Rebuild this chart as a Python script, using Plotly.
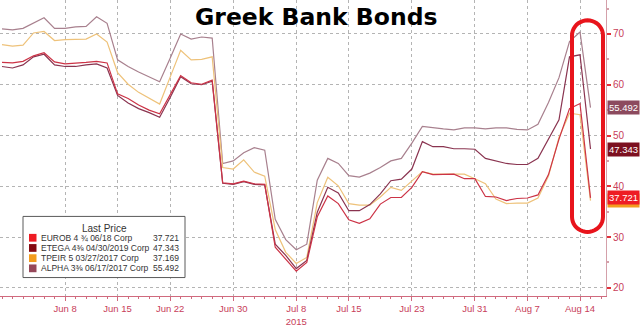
import plotly.graph_objects as go
import math

dates = [
    "2015-05-29",
    "2015-06-01", "2015-06-02", "2015-06-03", "2015-06-04", "2015-06-05",
    "2015-06-08", "2015-06-09", "2015-06-10", "2015-06-11", "2015-06-12",
    "2015-06-15", "2015-06-16", "2015-06-17", "2015-06-18", "2015-06-19",
    "2015-06-22", "2015-06-23", "2015-06-24", "2015-06-25", "2015-06-26",
    "2015-06-29", "2015-06-30", "2015-07-01", "2015-07-02", "2015-07-03",
    "2015-07-06", "2015-07-07", "2015-07-08", "2015-07-09", "2015-07-10",
    "2015-07-13", "2015-07-14", "2015-07-15", "2015-07-16", "2015-07-17",
    "2015-07-20", "2015-07-21", "2015-07-22", "2015-07-23", "2015-07-24",
    "2015-07-27", "2015-07-28", "2015-07-29", "2015-07-30", "2015-07-31",
    "2015-08-03", "2015-08-04", "2015-08-05", "2015-08-06", "2015-08-07",
    "2015-08-10", "2015-08-11", "2015-08-12", "2015-08-13", "2015-08-14",
    "2015-08-17",
]

alpha = [71.0, 70.8, 71.1, 72.1, 73.2, 71.1, 71.1, 71.4, 71.5, 73.4, 72.1,
         64.9, 63.6, 62.5, 61.5, 60.6, 65.2, 70.0, 69.0, 69.4, 69.2,
         44.5, 45.0, 46.6, 47.6, 47.1, 33.5, 29.5, 27.5, 28.6,
         41.2, 45.5, 44.5, 42.1, 41.8, 42.6, 43.7, 45.0, 45.5, 48.5,
         51.8, 51.5, 51.3, 51.1, 51.5, 51.5, 51.3, 51.5, 51.5, 51.2, 51.1,
         52.2, 56.5, 61.4, 68.5, 70.4, 55.492]

tpeir = [67.9, 67.6, 67.8, 70.2, 70.5, 68.7, 68.9, 68.9, 69.0, 70.0, 68.4,
         62.4, 60.1, 58.5, 57.3, 56.2, 61.5, 66.8, 64.9, 65.0, 65.5,
         43.7, 43.4, 45.2, 42.8, 42.0, 31.5, 27.0, 24.8, 26.0,
         36.8, 41.8, 40.1, 36.6, 36.3, 36.3, 37.9, 39.8, 39.2, 41.0,
         42.9, 42.4, 42.4, 42.4, 42.4, 41.5, 40.5, 37.5, 36.6, 36.7, 36.7,
         37.7, 42.0, 49.6, 54.4, 54.1, 37.169]

eurob = [64.4, 64.3, 64.6, 65.7, 66.3, 64.5, 64.1, 64.2, 64.4, 64.6, 64.3,
         58.2, 57.3, 56.0, 55.0, 54.3, 58.0, 61.8, 60.4, 60.1, 60.9,
         40.7, 40.5, 41.0, 40.5, 40.4, 28.0, 25.7, 23.3, 25.0,
         34.0, 38.1, 36.6, 33.4, 32.7, 33.6, 36.5, 37.8, 37.8, 39.8,
         42.9, 42.3, 42.4, 42.4, 41.5, 41.5, 38.0, 37.9, 37.2, 37.6, 37.7,
         38.3, 42.3, 49.3, 55.3, 56.3, 37.721]

etega = [63.6, 63.3, 63.9, 65.5, 66.0, 63.9, 63.6, 63.6, 63.9, 64.1, 63.3,
         57.9, 56.4, 55.3, 54.5, 53.6, 57.5, 61.6, 60.2, 60.0, 60.7,
         40.6, 40.4, 40.9, 40.4, 40.3, 28.6, 26.4, 23.8, 25.4,
         34.9, 39.8, 38.7, 35.2, 35.2, 36.4, 38.5, 41.1, 41.4, 43.4,
         48.8, 47.8, 47.8, 47.4, 47.4, 47.3, 45.5, 45.0, 44.5, 44.3, 44.3,
         45.5, 49.3, 53.1, 65.5, 65.9, 47.343]

series_names = ["EUROB 4 \u00be 06/18 Corp", "ETEGA 4\u215c 04/30/2019 Corp",
                "TPEIR 5 03/27/2017 Corp", "ALPHA 3\u215c 06/17/2017 Corp"]
series_vals = [eurob, etega, tpeir, alpha]
last_prices = ["37.721", "47.343", "37.169", "55.492"]
line_colors = ["#cc3346", "#8a3450", "#eec27a", "#a8808e"]
swatch_colors = ["#ee1c24", "#850a12", "#f39c1e", "#96485a"]
label_colors = ["#ee1c24", "#7c1020", "#f39c1e", "#8c4a5e"]

xtick_vals = ["2015-06-08", "2015-06-15", "2015-06-22", "2015-06-30", "2015-07-08",
              "2015-07-15", "2015-07-23", "2015-07-31", "2015-08-07", "2015-08-14"]
xtick_text = ["Jun 8", "Jun 15", "Jun 22", "Jun 30", "Jul 8<br>2015",
              "Jul 15", "Jul 23", "Jul 31", "Aug 7", "Aug 14"]
ytick_vals = [20, 30, 40, 50, 60, 70]

W, H = 640, 327
ML, MR, MT, MB = 0, 34, 0, 22
PW, PH = W - ML - MR, H - MT - MB


def px(x):
    return x / PW


def py(y):
    return 1 - y / PH


fig = go.Figure()
draw_order = [3, 2, 1, 0]
for k in draw_order:
    fig.add_trace(go.Scatter(x=dates, y=series_vals[k], mode="lines",
                             line=dict(color=line_colors[k], width=1.2),
                             name=series_names[k], showlegend=False))

shapes = []
annotations = []

# title
annotations.append(dict(text="<b>Greek Bank Bonds</b>", xref="paper", yref="paper",
                        x=px(316), y=py(18), xanchor="center", yanchor="middle",
                        showarrow=False,
                        font=dict(family="DejaVu Sans", size=23.5, color="#000000")))

# legend box
shapes.append(dict(type="rect", xref="paper", yref="paper",
                   x0=px(23), x1=px(185), y0=py(223), y1=py(286),
                   line=dict(color="#5a5a5a", width=1), fillcolor="white", layer="above"))
annotations.append(dict(text="Last Price", xref="paper", yref="paper",
                        x=px(104.5), y=py(235), xanchor="center", yanchor="middle",
                        showarrow=False,
                        font=dict(family="Liberation Sans", size=10, color="#333333")))
row_y = [245, 255.5, 266, 276.5]
for k in range(4):
    yy = row_y[k]
    shapes.append(dict(type="rect", xref="paper", yref="paper",
                       x0=px(29), x1=px(36.5), y0=py(yy - 4), y1=py(yy + 4),
                       line=dict(width=0), fillcolor=swatch_colors[k], layer="above"))
    annotations.append(dict(text=series_names[k], xref="paper", yref="paper",
                            x=px(39), y=py(yy), xanchor="left", yanchor="middle",
                            showarrow=False,
                            font=dict(family="Liberation Sans", size=8.5, color="#333333")))
    annotations.append(dict(text=last_prices[k], xref="paper", yref="paper",
                            x=px(181), y=py(yy), xanchor="right", yanchor="middle",
                            showarrow=False,
                            font=dict(family="Liberation Sans", size=8.5, color="#333333")))

# right-side last value labels (TPEIR first so EUROB sits on top)
for k in [3, 1, 2, 0]:
    annotations.append(dict(text=last_prices[k], xref="paper", yref="y",
                            x=1, y=float(last_prices[k]), xanchor="left", yanchor="middle",
                            xshift=1, showarrow=False, bgcolor=label_colors[k],
                            borderpad=1,
                            font=dict(family="Liberation Sans", size=9.5, color="white")))

# red highlight stadium
cx, hw, ytop, ybot = 587.5, 15.5, 21, 239
pts = []
for j in range(0, 21):
    a = math.pi + math.pi * j / 20
    pts.append((cx + hw * math.cos(a), ytop + hw + hw * math.sin(a)))
for j in range(0, 21):
    a = math.pi * j / 20
    pts.append((cx + hw * math.cos(a), ybot - hw + hw * math.sin(a)))
path = "M " + " L ".join(f"{px(a):.5f},{py(b):.5f}" for a, b in pts) + " Z"
shapes.append(dict(type="path", xref="paper", yref="paper", path=path,
                   line=dict(color="#e8141c", width=4), layer="above"))

fig.update_layout(
    width=W, height=H,
    margin=dict(l=ML, r=MR, t=MT, b=MB, pad=0),
    paper_bgcolor="white", plot_bgcolor="white",
    showlegend=False,
    shapes=shapes, annotations=annotations,
    xaxis=dict(
        type="date",
        range=["2015-05-28 19:26", "2015-08-18 11:22"],
        rangebreaks=[dict(bounds=["sat", "mon"])],
        tickvals=xtick_vals, ticktext=xtick_text,
        tickfont=dict(family="Liberation Sans", size=9.5, color="#c8405a"),
        showgrid=True, gridcolor="#b4b4b4", griddash="dot", gridwidth=1,
        showline=True, linecolor="#d06a7e", linewidth=1,
        ticks="outside", ticklen=4, tickcolor="#d06a7e",
        minor=dict(dtick=86400000, ticks="outside", ticklen=2, tickcolor="#d06a7e",
                   showgrid=False),
        zeroline=False, fixedrange=True,
    ),
    yaxis=dict(
        side="right",
        range=[18.4, 76.69],
        tickvals=ytick_vals,
        tickfont=dict(family="Liberation Sans", size=10, color="#c8405a"),
        showgrid=True, gridcolor="#b4b4b4", griddash="dot", gridwidth=1,
        showline=True, linecolor="#d4a0aa", linewidth=1,
        ticks="outside", ticklen=4, tickwidth=2, tickcolor="#e0303a",
        minor=dict(dtick=5, ticks="outside", ticklen=2, tickcolor="#d4a0aa",
                   showgrid=False),
        zeroline=False, fixedrange=True,
    ),
)

fig.write_html("out.html")
